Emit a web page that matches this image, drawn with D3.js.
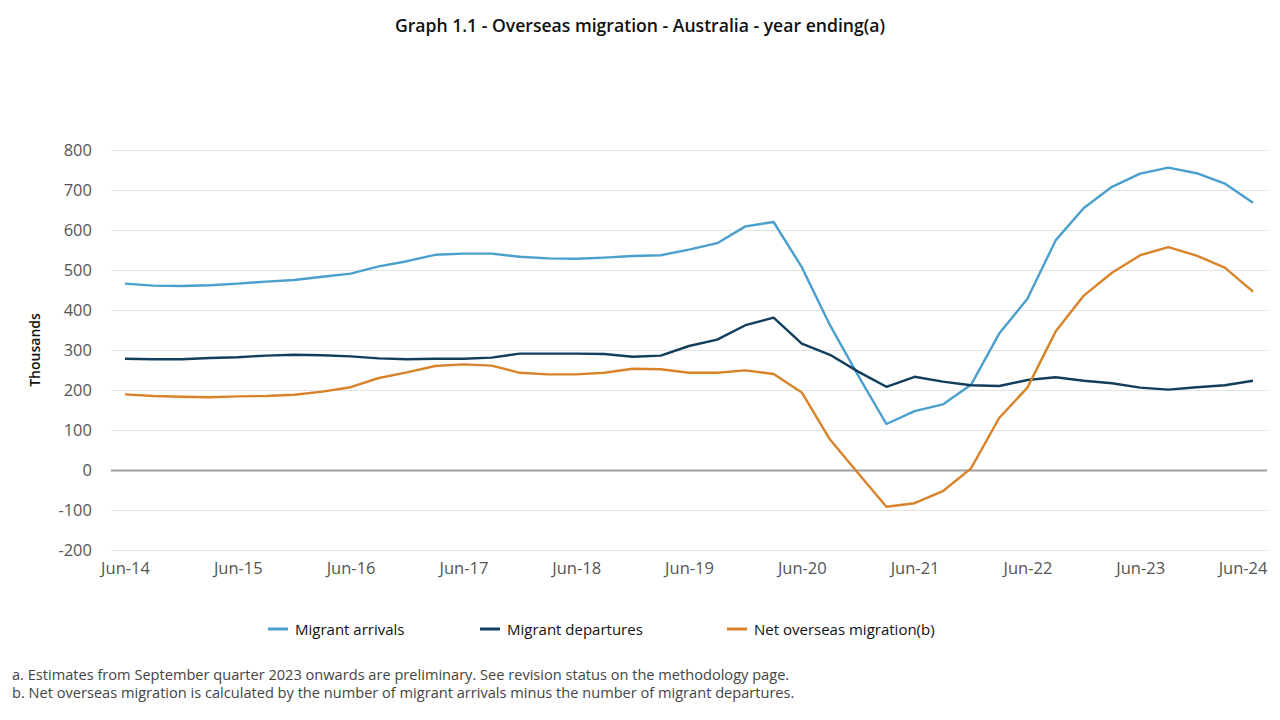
<!DOCTYPE html>
<html><head><meta charset="utf-8">
<script src="https://cdn.jsdelivr.net/npm/d3@7/dist/d3.min.js"></script>
<style>body{margin:0;background:#fff}svg{display:block}</style>
</head><body><svg id="c" width="1280" height="720"></svg>
<script>
const quarters = ["Jun-14","Sep-14","Dec-14","Mar-15","Jun-15","Sep-15","Dec-15","Mar-16","Jun-16","Sep-16","Dec-16","Mar-17","Jun-17","Sep-17","Dec-17","Mar-18","Jun-18","Sep-18","Dec-18","Mar-19","Jun-19","Sep-19","Dec-19","Mar-20","Jun-20","Sep-20","Dec-20","Mar-21","Jun-21","Sep-21","Dec-21","Mar-22","Jun-22","Sep-22","Dec-22","Mar-23","Jun-23","Sep-23","Dec-23","Mar-24","Jun-24"];
const xTickLabels = ["Jun-14","Jun-15","Jun-16","Jun-17","Jun-18","Jun-19","Jun-20","Jun-21","Jun-22","Jun-23","Jun-24"];
const yTicks = [-200,-100,0,100,200,300,400,500,600,700,800];
const arrivals = [466,461,460,462,466,471,475,483,491,509,522,538,541,541,533,529,528,531,535,537,551,567,609,620,507,362,236,115,147,164,213,341,428,574,655,708,741,756,742,716,668];
const departures = [278,277,277,280,282,286,288,287,284,279,277,278,278,281,291,291,291,290,283,286,310,326,362,381,316,288,246,208,233,221,212,210,225,232,223,217,206,201,207,212,223];
const net = [189,185,183,182,184,185,188,196,207,230,244,260,264,261,243,239,239,243,253,252,243,243,249,240,194,76,-8,-92,-83,-53,4,130,206,346,436,493,537,557,536,506,446];
const seriesNames = ["Migrant arrivals","Migrant departures","Net overseas migration(b)"];
const colors = ["#4a9fcd","#123e5d","#d8832a"];
const footnotes = ["a. Estimates from September quarter 2023 onwards are preliminary. See revision status on the methodology page.","b. Net overseas migration is calculated by the number of migrant arrivals minus the number of migrant departures."];

const svg = d3.select("#c");
const font = "'Open Sans', 'Noto Sans', sans-serif";
const x = d3.scalePoint().domain(quarters).range([125,1253]);
const y = d3.scaleLinear().domain([-200,800]).range([550,150]);
const gridX0 = 111, gridX1 = 1267;

svg.append("text").attr("x",640).attr("y",32).attr("text-anchor","middle")
  .attr("font-family",font).attr("font-weight",600).attr("font-size",17.6).attr("fill","#111")
  .text("Graph 1.1 - Overseas migration - Australia - year ending(a)");

// grid
const yAxis = d3.axisLeft(y).tickValues(yTicks).tickSize(-(gridX1-gridX0)).tickPadding(19).tickFormat(d=>String(d));
const gy = svg.append("g").attr("transform",`translate(${gridX0},0)`).call(yAxis);
gy.select(".domain").remove();
gy.selectAll(".tick line").attr("stroke",d=>d===0?"#a0a0a0":"#e3e3e3").attr("stroke-width",d=>d===0?2:1.2);
gy.selectAll(".tick text").attr("font-family",font).attr("font-size",16.5).attr("fill","#555");

const xAxis = d3.axisBottom(x).tickValues(xTickLabels).tickSize(0).tickPadding(12);
const gx = svg.append("g").attr("transform",`translate(0,550)`).call(xAxis);
gx.select(".domain").remove();
gx.selectAll(".tick text").attr("font-family",font).attr("font-size",16.5).attr("fill","#555");
gx.selectAll(".tick").filter(d=>d==="Jun-24").select("text").attr("text-anchor","end").attr("dx",gridX1-x("Jun-24"));

svg.append("text").attr("transform","translate(40,350) rotate(-90)").attr("text-anchor","middle")
  .attr("font-family",font).attr("font-weight",600).attr("font-size",14).attr("fill","#111").text("Thousands");

const line = d3.line().x((d,i)=>x(quarters[i])).y(d=>y(d));
[arrivals,departures,net].forEach((s,k)=>{
  svg.append("path").datum(s).attr("d",line).attr("fill","none").attr("stroke",colors[k]).attr("stroke-width",2.4).attr("stroke-linejoin","round");
});

// legend
const legX = [268,480,727];
seriesNames.forEach((n,k)=>{
  svg.append("line").attr("x1",legX[k]).attr("x2",legX[k]+20).attr("y1",629).attr("y2",629).attr("stroke",colors[k]).attr("stroke-width",3);
  svg.append("text").attr("x",legX[k]+27).attr("y",634.5).attr("font-family",font).attr("font-size",15).attr("fill","#111").text(n);
});

footnotes.forEach((t,i)=>{
  svg.append("text").attr("x",12).attr("y",680+i*18).attr("font-family",font).attr("font-size",14.6).attr("fill","#444").text(t);
});
</script></body></html>
